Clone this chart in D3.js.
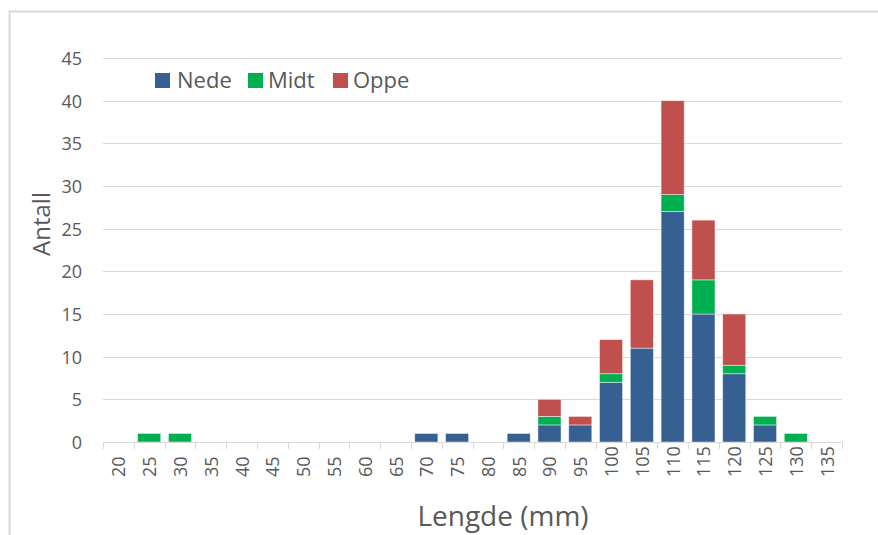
<!DOCTYPE html>
<html>
<head>
<meta charset="utf-8">
<script src="https://cdn.jsdelivr.net/npm/d3@7"></script>
<style>
  html, body { margin: 0; padding: 0; background: #ffffff; }
  svg { display: block; }
  text { font-family: "Open Sans", sans-serif; fill: #595959; }
</style>
</head>
<body>
<svg id="chart" width="878" height="535"></svg>
<script>
const categories = ["20","25","30","35","40","45","50","55","60","65","70","75","80","85","90","95","100","105","110","115","120","125","130","135"];
const nede = [0,0,0,0,0,0,0,0,0,0,1,1,0,1,2,2,7,11,27,15,8,2,0,0];
const midt = [0,1,1,0,0,0,0,0,0,0,0,0,0,0,1,0,1,0,2,4,1,1,1,0];
const oppe = [0,0,0,0,0,0,0,0,0,0,0,0,0,0,2,1,4,8,11,7,6,0,0,0];
const seriesNames = ["Nede","Midt","Oppe"];
const seriesColors = ["#376092","#00B050","#C0504D"];
const yTicks = [0,5,10,15,20,25,30,35,40,45];

(function () {
const svg = d3.select("#chart");
const W = 878, H = 535;
const pLeft = 103, pRight = 842, pTop = 58, pBottom = 442;

// frame
svg.append("path")
  .attr("d", `M9.5,${H} L9.5,11.5 L${W},11.5`)
  .attr("fill","none").attr("stroke","#d9d9d9").attr("stroke-width",2);

const x = d3.scaleBand().domain(categories).range([pLeft, pRight]).paddingInner(0.25).paddingOuter(0.125);
const y = d3.scaleLinear().domain([0,45]).range([pBottom, pTop]);

// gridlines
svg.append("g").selectAll("line").data(yTicks.filter(d => d > 0)).join("line")
  .attr("x1", pLeft).attr("x2", pRight)
  .attr("y1", d => Math.round(y(d)) + 0.5).attr("y2", d => Math.round(y(d)) + 0.5)
  .attr("stroke", "#d9d9d9").attr("stroke-width", 1);

// y labels
svg.append("g").selectAll("text").data(yTicks).join("text")
  .attr("x", 82).attr("y", d => y(d))
  .attr("text-anchor","end").attr("dominant-baseline","central")
  .attr("font-size", 18).text(d => d);

// stacked data
const rows = categories.map((c,i) => ({cat:c, Nede:nede[i], Midt:midt[i], Oppe:oppe[i]}));
const stack = d3.stack().keys(seriesNames)(rows);
const color = d3.scaleOrdinal().domain(seriesNames).range(seriesColors);

svg.append("g").selectAll("g").data(stack).join("g")
  .attr("fill", d => color(d.key))
  .selectAll("rect").data(d => d.filter(p => p[1] - p[0] > 0)).join("rect")
  .attr("x", d => x(d.data.cat))
  .attr("width", x.bandwidth())
  .attr("y", d => y(d[1]))
  .attr("height", d => y(d[0]) - y(d[1]))
  .attr("stroke", "#ffffff").attr("stroke-opacity", 0.6).attr("stroke-width", 0.75);

// x axis line
svg.append("line").attr("x1", pLeft).attr("x2", pRight)
  .attr("y1", pBottom + 0.5).attr("y2", pBottom + 0.5)
  .attr("stroke", "#d9d9d9").attr("stroke-width", 1);

// x ticks at boundaries
const bounds = d3.range(categories.length + 1).map(i => pLeft + i * (pRight - pLeft) / categories.length);
svg.append("g").selectAll("line").data(bounds).join("line")
  .attr("x1", d => Math.round(d) + 0.5).attr("x2", d => Math.round(d) + 0.5)
  .attr("y1", pBottom).attr("y2", pBottom + 7)
  .attr("stroke", "#d9d9d9").attr("stroke-width", 1);

// x labels
svg.append("g").selectAll("text").data(categories).join("text")
  .attr("transform", d => `translate(${x(d) + x.bandwidth()/2},477) rotate(-90)`)
  .attr("text-anchor","start").attr("dominant-baseline","central")
  .attr("font-size", 18).text(d => d);

// axis titles
svg.append("text").attr("transform", "translate(50,224) rotate(-90)")
  .attr("text-anchor","middle").attr("font-size", 24).text("Antall");
svg.append("text").attr("x", 503).attr("y", 526)
  .attr("text-anchor","middle").attr("font-size", 28).text("Lengde (mm)");

// legend
const legendPos = [[155,177],[248,268],[333,353]];
const lg = svg.append("g");
seriesNames.forEach((s,i) => {
  lg.append("rect").attr("x", legendPos[i][0]).attr("y", 73).attr("width", 15).attr("height", 15)
    .attr("fill", seriesColors[i]);
  lg.append("text").attr("x", legendPos[i][1]).attr("y", 88).attr("font-size", 22).text(s);
});
})();
</script>
</body>
</html>
